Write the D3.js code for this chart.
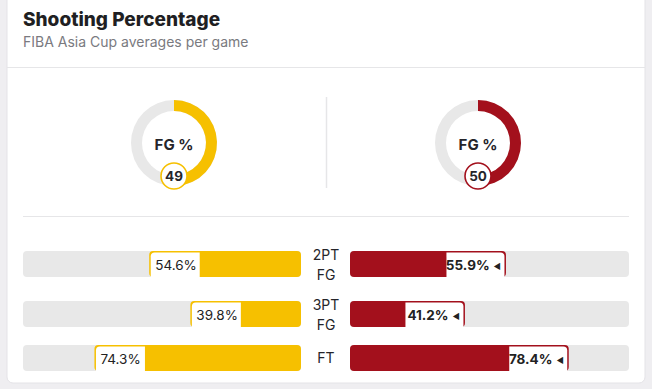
<!DOCTYPE html>
<html>
<head>
<meta charset="utf-8">
<script src="https://cdn.jsdelivr.net/npm/d3@7"></script>
<style>
  html, body { margin: 0; padding: 0; background: #efeef1; }
  svg { display: block; font-family: Inter, "Noto Sans", sans-serif; }
</style>
</head>
<body>
<div id="chart"></div>
<script>
// Data
const teamColors = ["#f6c000", "#a3101c"];
const fgPct = [49, 50];
const categories = [["2PT", "FG"], ["3PT", "FG"], ["FT"]];
const leftValues = [54.6, 39.8, 74.3];
const rightValues = [55.9, 41.2, 78.4];

const W = 652, H = 389;
const svg = d3.select("#chart").append("svg")
    .attr("width", W)
    .attr("height", H);

// Card
svg.append("rect")
    .attr("x", 7).attr("y", -20)
    .attr("width", 638).attr("height", 403)
    .attr("rx", 6)
    .attr("fill", "#fff")
    .attr("stroke", "#e4e3e7");

// Header
svg.append("text")
    .attr("x", 23).attr("y", 26)
    .style("font-size", "19px")
    .style("font-weight", 800)
    .style("fill", "#1f1f23")
    .text("Shooting Percentage");

svg.append("text")
    .attr("x", 23).attr("y", 47)
    .style("font-size", "14px")
    .style("fill", "#7a7a80")
    .text("FIBA Asia Cup averages per game");

svg.append("line")
    .attr("x1", 7).attr("x2", 645)
    .attr("y1", 67.5).attr("y2", 67.5)
    .attr("stroke", "#e6e6e8");

// Donuts
const donutX = d3.scalePoint().domain([0, 1]).range([174, 478]);
const donutY = 143;
const outerR = 43, innerR = 32;
const angle = d3.scaleLinear().domain([0, 100]).range([0, 2 * Math.PI]);
const arc = d3.arc().innerRadius(innerR).outerRadius(outerR);

fgPct.forEach((v, i) => {
    const g = svg.append("g")
        .attr("transform", `translate(${donutX(i)},${donutY})`);

    g.append("path")
        .attr("d", arc({ startAngle: 0, endAngle: 2 * Math.PI }))
        .attr("fill", "#e8e8e8");

    g.append("path")
        .attr("d", arc({ startAngle: 0, endAngle: angle(v) }))
        .attr("fill", teamColors[i]);

    g.append("text")
        .attr("y", 7)
        .attr("text-anchor", "middle")
        .style("font-size", "15px")
        .style("font-weight", 700)
        .style("fill", "#25252a")
        .text("FG %");

    // value badge
    g.append("circle")
        .attr("cy", 33)
        .attr("r", 13)
        .attr("fill", "#fff")
        .attr("stroke", teamColors[i])
        .attr("stroke-width", 1.6);

    g.append("text")
        .attr("y", 38)
        .attr("text-anchor", "middle")
        .style("font-size", "13.5px")
        .style("font-weight", 700)
        .style("fill", "#25252a")
        .text(v);
});

// Dividers
svg.append("line")
    .attr("x1", 326.5).attr("x2", 326.5)
    .attr("y1", 97).attr("y2", 188)
    .attr("stroke", "#e6e6e8")
    .attr("stroke-width", 1.5);

svg.append("line")
    .attr("x1", 23).attr("x2", 629)
    .attr("y1", 216.5).attr("y2", 216.5)
    .attr("stroke", "#e6e6e8");

// Bar rows: height depends on label line count
const barH = 26, lineH = 19, rowGap = 12;
const rowHeights = categories.map(c => Math.max(barH, c.length * lineH));
const rowCenters = [];
let cursor = 245;
rowHeights.forEach(h => {
    rowCenters.push(cursor + h / 2);
    cursor += h + rowGap;
});

const leftX = d3.scaleLinear().domain([0, 100]).range([301, 23]);
const rightX = d3.scaleLinear().domain([0, 100]).range([350, 629]);

const rows = svg.append("g");

categories.forEach((cat, i) => {
    const cy = rowCenters[i];
    const top = cy - barH / 2;
    const lv = leftValues[i], rv = rightValues[i];

    // tracks
    rows.append("rect")
        .attr("x", leftX(100)).attr("y", top)
        .attr("width", leftX(0) - leftX(100)).attr("height", barH)
        .attr("rx", 4)
        .attr("fill", "#e8e8e8");
    rows.append("rect")
        .attr("x", rightX(0)).attr("y", top)
        .attr("width", rightX(100) - rightX(0)).attr("height", barH)
        .attr("rx", 4)
        .attr("fill", "#e8e8e8");

    // fills
    rows.append("rect")
        .attr("x", leftX(lv)).attr("y", top)
        .attr("width", leftX(0) - leftX(lv)).attr("height", barH)
        .attr("rx", 4)
        .attr("fill", teamColors[0]);
    rows.append("rect")
        .attr("x", rightX(0)).attr("y", top)
        .attr("width", rightX(rv) - rightX(0)).attr("height", barH)
        .attr("rx", 4)
        .attr("fill", teamColors[1]);

    // left value tag
    const lBold = lv > rv;
    const lw = lBold ? 58 : 49;
    rows.append("path")
        .attr("d", tagPath(leftX(lv) + 1.5, top + 1.5, lw, barH - 1.5, "left"))
        .attr("fill", "#fff");
    rows.append("text")
        .attr("x", leftX(lv) + 6).attr("y", cy + 5.5)
        .style("font-size", "13.5px")
        .style("font-weight", lBold ? 700 : 400)
        .style("fill", "#222")
        .text(lv.toFixed(1) + "%" + (lBold ? " \u25B8" : ""));

    // right value tag
    const rBold = rv > lv;
    const rw = rBold ? 58 : 49;
    rows.append("path")
        .attr("d", tagPath(rightX(rv) - 1.5 - rw, top + 1.5, rw, barH - 1.5, "right"))
        .attr("fill", "#fff");
    const rt = rows.append("text")
        .attr("x", rightX(rv) - 5).attr("y", cy + 5.5)
        .attr("text-anchor", "end")
        .style("font-size", "13.5px")
        .style("fill", "#222");
    rt.append("tspan")
        .style("font-weight", rBold ? 700 : 400)
        .text(rv.toFixed(1) + "%");
    if (rBold) {
        rt.append("tspan")
            .attr("dx", 4)
            .style("font-size", "8px")
            .attr("dy", -1)
            .text("\u25C0");
    }

    // category label
    const lab = rows.append("text")
        .attr("x", 326)
        .attr("text-anchor", "middle")
        .style("font-size", "14px")
        .style("fill", "#25252a");
    const firstBaseline = cy - (cat.length - 1) * lineH / 2 + 5;
    cat.forEach((t, k) => {
        lab.append("tspan")
            .attr("x", 326)
            .attr("y", firstBaseline + k * lineH + (k > 0 ? 1 : 0))
            .text(t);
    });
});

// tag with one rounded top corner
function tagPath(x, y, w, h, side) {
    const r = 4;
    if (side === "left") {
        return `M${x},${y + h} V${y + r} Q${x},${y} ${x + r},${y} H${x + w} V${y + h} Z`;
    }
    return `M${x},${y} H${x + w - r} Q${x + w},${y} ${x + w},${y + r} V${y + h} H${x} Z`;
}
</script>
</body>
</html>
